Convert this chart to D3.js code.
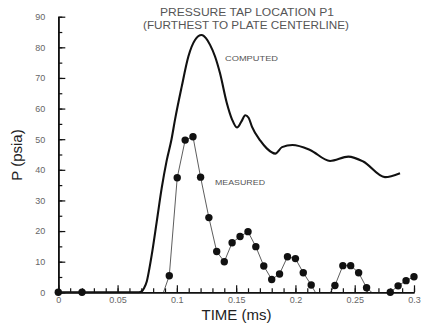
<html>

<head>
  <title>Pressure tap P1</title>
  <script src="https://d3js.org/d3.v7.min.js"></script>
  <style>
    body {
      margin: 0;
      background: white;
    }

    text {
      font-family: "Liberation Sans", Arial, sans-serif;
    }

    .axis text {
      font-size: 9px;
      fill: #666;
    }

    .axis path,
    .axis line {
      stroke: #111;
    }
  </style>
</head>

<body>
  <svg id="chart" width="424" height="326"></svg>

  <script>

    // time (ms) and pressure (psia)
    const computedTime = [0, 0.068, 0.0705, 0.0725, 0.0746, 0.0767, 0.0788, 0.083, 0.0872, 0.0914, 0.0955, 0.0984,
      0.104, 0.1097, 0.1153, 0.1209, 0.1245, 0.128, 0.1322, 0.1364, 0.142, 0.1465, 0.1507, 0.1545, 0.1577, 0.1605,
      0.1634, 0.1704, 0.1758, 0.183, 0.1887, 0.1975, 0.2123, 0.2292, 0.2446, 0.2572, 0.2755, 0.2882];
    const computedP = [0, 0, 0.4, 1.5, 3.5, 7.5, 12.2, 23, 34, 43, 50, 56.3,
      67, 77, 82.4, 84, 83, 80.8, 77, 71.5, 62, 56.5, 53.8, 55.8, 57.8, 57,
      54, 49.5, 47, 45.3, 47.4, 48.1, 46.5, 42.9, 44.3, 42.7, 37.6, 38.9];

    // measured samples, the negative ones get clipped by the axis
    const measuredTime = [0, 0.02, 0.0866, 0.0936, 0.1003, 0.107, 0.1136, 0.12, 0.127, 0.1336, 0.14, 0.1466,
      0.1533, 0.16, 0.1666, 0.1733, 0.18, 0.1866, 0.1933, 0.2, 0.2066, 0.2133, 0.22, 0.2266, 0.2333, 0.24,
      0.2466, 0.2533, 0.26, 0.2666, 0.2733, 0.28, 0.2866, 0.2933, 0.3];
    const measuredP = [0, 0, -2.3, 5.4, 37.4, 49.7, 50.8, 37.6, 24.4, 13.3, 10.0, 16.2,
      18.2, 19.8, 14.9, 8.6, 4.2, 6.0, 11.6, 11.0, 6.4, 2.4, -2.2, -1.6, 2.2, 8.7,
      8.7, 6.4, 1.5, -0.8, -1.2, 0, 2.1, 3.8, 5.1];

    const xTicks = [0, 0.05, 0.1, 0.15, 0.2, 0.25, 0.3];
    const xMinorTicks = d3.range(0, 31).map(i => i / 100);
    const yTicks = [0, 10, 20, 30, 40, 50, 60, 70, 80, 90];
    const yMinorTicks = d3.range(0, 19).map(i => i * 5);

    const titleLines = ["PRESSURE TAP LOCATION  P1", "(FURTHEST TO PLATE CENTERLINE)"];


    const svg = d3.select("svg#chart");
    const width = svg.attr("width");
    const height = svg.attr("height");
    const margin = { top: 16.7, right: 10, bottom: 33.7, left: 58.3 };

    const chartWidth = width - margin.left - margin.right;
    const chartHeight = height - margin.top - margin.bottom;

    const xScale = d3.scaleLinear().domain([0, 0.3]).range([0, chartWidth]);
    const yScale = d3.scaleLinear().domain([0, 90]).range([chartHeight, 0]);

    let chartArea = svg.append("g")
      .attr("transform", `translate(${margin.left},${margin.top})`);

    // clip so the measured line never dips under the time axis
    svg.append("defs").append("clipPath").attr("id", "aboveZero")
      .append("rect")
      .attr("x", 0).attr("y", -5)
      .attr("width", chartWidth + 5)
      .attr("height", yScale(0) + 5);


    // axes - ticks point inward like the original plot
    let leftMinor = d3.axisLeft(yScale).tickValues(yMinorTicks)
      .tickFormat("").tickSizeInner(-4).tickSizeOuter(0);
    chartArea.append("g").attr("class", "axis").call(leftMinor);

    let leftAxis = d3.axisLeft(yScale).tickValues(yTicks)
      .tickSizeInner(-7).tickSizeOuter(0).tickPadding(13);
    chartArea.append("g").attr("class", "axis y").call(leftAxis);

    let bottomMinor = d3.axisBottom(xScale).tickValues(xMinorTicks)
      .tickFormat("").tickSizeInner(-4).tickSizeOuter(0);
    chartArea.append("g").attr("class", "axis")
      .attr("transform", `translate(0,${chartHeight})`)
      .call(bottomMinor);

    let bottomAxis = d3.axisBottom(xScale).tickValues(xTicks)
      .tickFormat(d3.format("~g"))
      .tickSizeInner(-7).tickSizeOuter(0).tickPadding(4);
    chartArea.append("g").attr("class", "axis x")
      .attr("transform", `translate(0,${chartHeight})`)
      .call(bottomAxis);

    chartArea.selectAll(".axis path").attr("stroke-width", 1.6);
    chartArea.selectAll(".axis line").attr("stroke-width", 1.2);


    // computed curve (monotone so the wiggles don't overshoot)
    const computed = computedTime.map((t, i) => [t, computedP[i]]);
    let lineGen = d3.line()
      .x(d => xScale(d[0]))
      .y(d => yScale(d[1]))
      .curve(d3.curveMonotoneX);

    chartArea.append("path")
      .datum(computed)
      .attr("fill", "none")
      .attr("stroke", "#111")
      .attr("stroke-width", 2.1)
      .attr("stroke-linejoin", "round")
      .attr("d", lineGen);


    // measured points + thin connecting line
    const measured = measuredTime.map((t, i) => [t, measuredP[i]]);
    let straightLine = d3.line()
      .x(d => xScale(d[0]))
      .y(d => yScale(d[1]));

    chartArea.append("path")
      .datum(measured)
      .attr("clip-path", "url(#aboveZero)")
      .attr("fill", "none")
      .attr("stroke", "#333")
      .attr("stroke-width", 0.8)
      .attr("d", straightLine);

    chartArea.selectAll("circle.measured")
      .data(measured.filter(d => d[1] >= 0))
      .join("circle")
      .attr("class", "measured")
      .attr("cx", d => xScale(d[0]))
      .attr("cy", d => yScale(d[1]))
      .attr("r", 3.7)
      .attr("fill", "#111");


    // labels
    svg.append("text")
      .attr("x", 247).attr("y", 16)
      .attr("text-anchor", "middle")
      .attr("font-size", 10)
      .attr("fill", "#555")
      .attr("textLength", 174).attr("lengthAdjust", "spacingAndGlyphs")
      .text(titleLines[0]);
    svg.append("text")
      .attr("x", 246).attr("y", 28.5)
      .attr("text-anchor", "middle")
      .attr("font-size", 10)
      .attr("fill", "#555")
      .attr("textLength", 206).attr("lengthAdjust", "spacingAndGlyphs")
      .text(titleLines[1]);

    svg.append("text")
      .attr("x", 225).attr("y", 61)
      .attr("font-size", 8)
      .attr("fill", "#555")
      .attr("textLength", 53).attr("lengthAdjust", "spacingAndGlyphs")
      .text("COMPUTED");

    svg.append("text")
      .attr("x", 215).attr("y", 185)
      .attr("font-size", 8)
      .attr("fill", "#555")
      .attr("textLength", 50).attr("lengthAdjust", "spacingAndGlyphs")
      .text("MEASURED");

    svg.append("text")
      .attr("x", 236.5).attr("y", 320)
      .attr("text-anchor", "middle")
      .attr("font-size", 15)
      .attr("fill", "#222")
      .text("TIME (ms)");

    svg.append("text")
      .attr("transform", "translate(22,155) rotate(-90)")
      .attr("text-anchor", "middle")
      .attr("font-size", 15)
      .attr("fill", "#222")
      .text("P (psia)");

  </script>
</body>

</html>
